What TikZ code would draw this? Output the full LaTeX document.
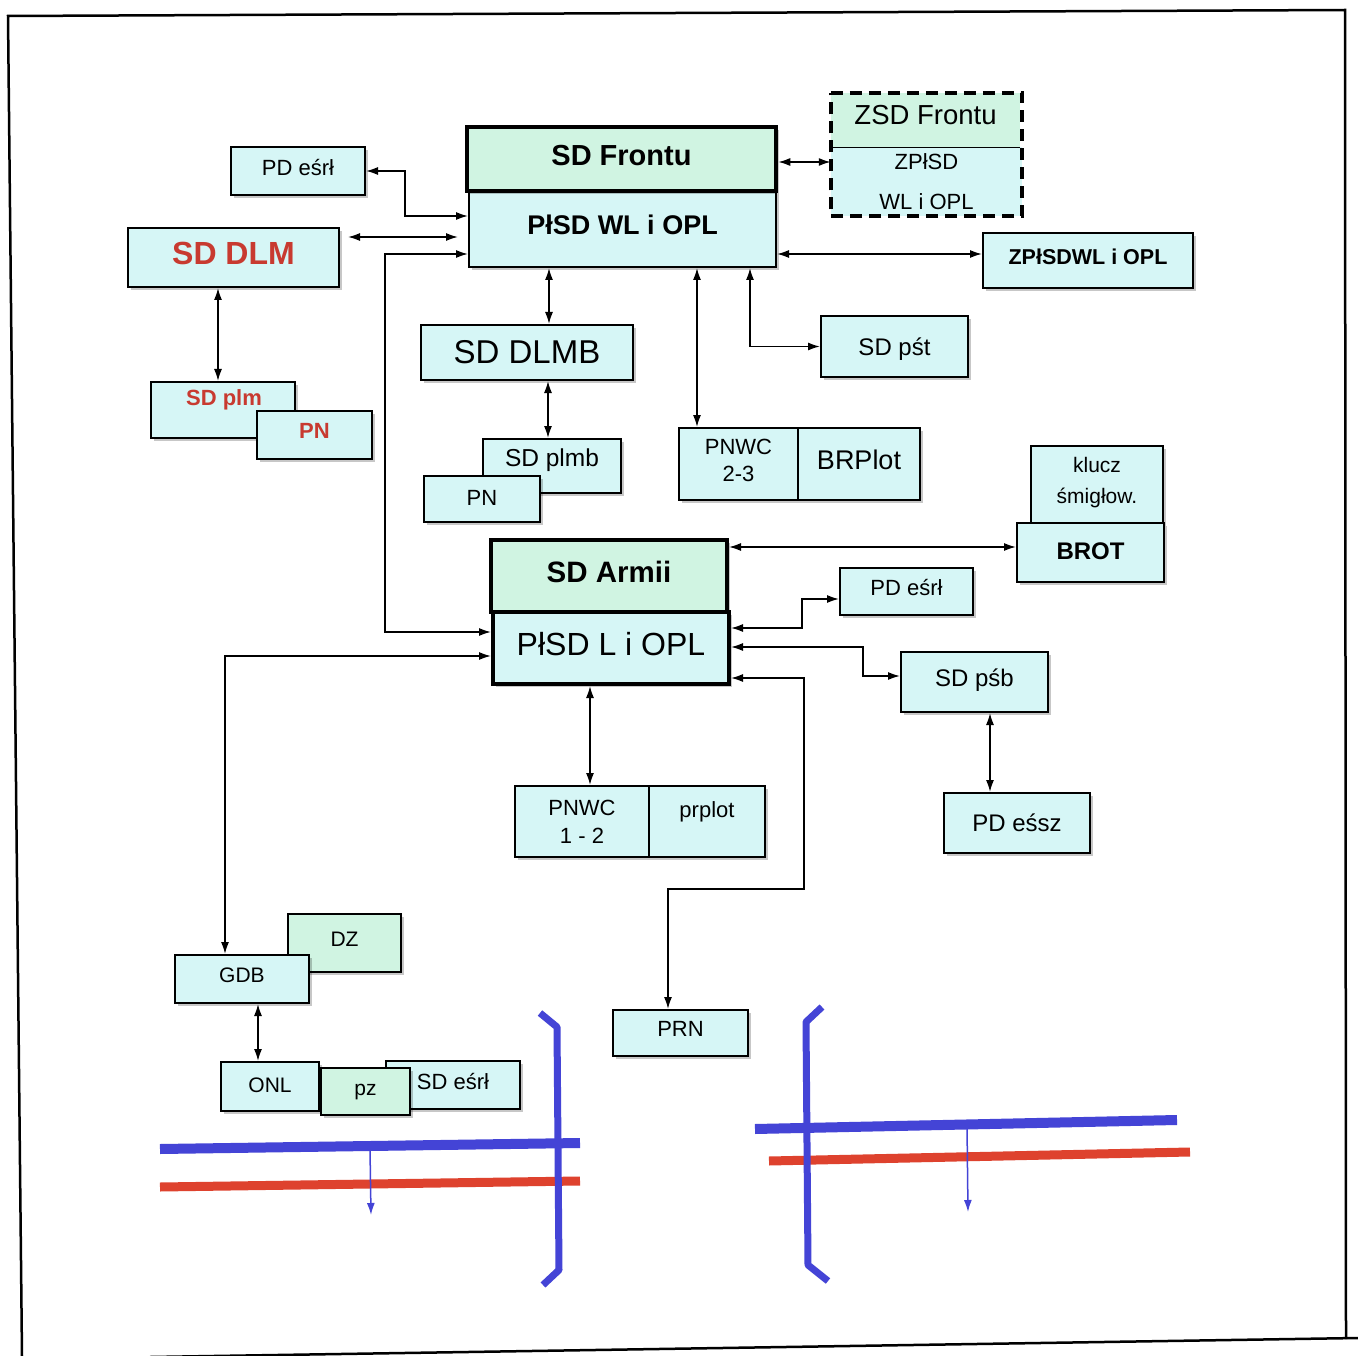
\documentclass[tikz,border=0pt]{standalone}
\usepackage{fontspec}
\setmainfont{Liberation Sans}
\usetikzlibrary{arrows.meta,shadows}
\definecolor{cyanf}{RGB}{214,246,246}
\definecolor{greenf}{RGB}{208,244,226}
\definecolor{redt}{RGB}{200,58,48}
\definecolor{blu}{RGB}{68,68,214}
\definecolor{redl}{RGB}{222,66,46}
\newcommand{\fsz}[2]{\fontsize{#1}{#2}\selectfont}
\newcommand{\bx}[7][]{\node[box,#1,minimum width={(#5-#3)*1pt},minimum height={(#6-#4)*1pt}] (#2) at ({(#3+#5)/2},{(#4+#6)/2}) {#7};}
\begin{document}
\begin{tikzpicture}[x=1pt,y=-1pt,
  >={Latex[length=12pt,width=8pt]},
  box/.style={draw=black,line width=2pt,fill=cyanf,inner sep=0pt,align=center,
    font=\fsz{22}{27},text depth=8pt,
    drop shadow={shadow xshift=3pt,shadow yshift=-3pt,opacity=0.22,fill=black}},
  thickbox/.style={line width=4.5pt},
  greenbox/.style={fill=greenf},
  bi/.style={line width=1.6pt,<->},
  txt/.style={inner sep=0pt,font=\fsz{22}{27}},
  band/.style={line width=10pt},
  bracket/.style={blu,line width=7pt,line join=round}]
\useasboundingbox (0,0) rectangle (1358,1356);
\fill[white] (0,0) rectangle (1358,1356);
% page frame
\draw[line width=2.5pt] (22,1356) -- (8,16) -- (1345,10) -- (1346,1339);
\draw[line width=2.5pt] (150,1357) -- (1358,1338);

% top block
\bx[font=\fsz{27}{32}\bfseries]{pwl}{469}{191}{776}{267}{PłSD WL i OPL}
\bx[greenbox,thickbox,font=\fsz{29}{34}\bfseries]{front}{467}{127}{776}{191}{SD Frontu}

% ZSD Frontu dashed block
\node[fill=greenf,inner sep=0pt,minimum width=189pt,minimum height=54pt,text depth=10pt,font=\fsz{27.5}{32}] (zsd) at (925.5,120) {ZSD Frontu};
\node[fill=cyanf,inner sep=0pt,minimum width=191pt,minimum height=69pt,align=center,font=\fsz{22}{40}] (zpl) at (926.5,181.5) {ZPłSD\\WL i OPL};
\draw[line width=1.2pt] (zsd.south west) -- (zsd.south east);
\draw[line width=3.5pt,dash pattern=on 12pt off 7pt] (zsd.north west) -- (zsd.north east) -- (zpl.north east |- zsd.north east) -- (zpl.south east) -- (zpl.south west) -- cycle;

\bx[font=\fsz{21.5}{26}\bfseries]{zpwl}{983}{233}{1193}{288}{ZPłSDWL i OPL}
\bx{pdes1}{231}{147}{365}{195}{PD eśrł}
\bx[font=\fsz{32}{38}\bfseries,text=redt]{sddlm}{128}{228}{339}{287}{SD DLM}
\bx[font=\fsz{33}{38},text depth=2pt]{dlmb}{421}{325}{633}{380}{SD DLMB}
\bx[font=\fsz{24}{28},text depth=0pt]{sdpst}{821}{316}{968}{377}{SD pśt}

\bx{sdplm}{151}{382}{295}{438}{}
\node[txt,font=\fsz{22}{27}\bfseries,text=redt] (sdplmt) at (224,400) {SD plm};
\bx[font=\fsz{22}{27}\bfseries,text=redt]{pnred}{257}{411}{372}{459}{PN}

\bx{plmb}{483}{439}{621}{493}{}
\node[txt,font=\fsz{24.5}{28}] (plmbt) at (552,460) {SD plmb};
\bx[text depth=2pt]{pn2}{424}{476}{540}{522}{PN}

\bx{pnwc23}{679}{428}{798}{500}{PNWC\\2-3}
\bx[font=\fsz{27}{32}]{brplot}{798}{428}{920}{500}{BRPlot}

\bx[font=\fsz{21}{31}]{klucz}{1031}{446}{1163}{523}{klucz\\śmigłow.}
\bx[font=\fsz{24}{28}\bfseries,text depth=2pt]{brot}{1017}{523}{1164}{582}{BROT}

% SD Armii block
\bx[greenbox,line width=4pt,font=\fsz{29.5}{34}\bfseries]{armii}{491}{540}{727}{612}{SD Armii}
\bx[line width=4pt,font=\fsz{32}{38}]{pl}{493}{612}{729}{684}{PłSD L i OPL}

\bx{pdes2}{840}{568}{973}{615}{PD eśrł}
\bx[font=\fsz{24}{28}]{sdpsb}{901}{652}{1048}{712}{SD pśb}
\bx[font=\fsz{24}{28},text depth=0pt]{pdesz}{944}{793}{1090}{853}{PD eśsz}

\bx[text depth=0pt,font=\fsz{22}{28}]{pnwc12}{515}{786}{649}{857}{PNWC\\1 - 2}
\bx{prplot}{649}{786}{765}{857}{}
\node[txt] (prplott) at (707,812) {prplot};

\bx{prn}{613}{1010}{748}{1056}{PRN}
\bx[greenbox,font=\fsz{21}{26}]{dz}{288}{914}{401}{972}{DZ}
\bx[font=\fsz{21}{26}]{gdb}{175}{955}{309}{1003}{GDB}
\bx[font=\fsz{21}{26},text depth=2pt]{onl}{221}{1062}{319}{1111}{ONL}
\bx{sdes}{386}{1061}{520}{1109}{SD eśrł}
\bx[greenbox,font=\fsz{21}{26},text depth=4pt]{pz}{321}{1068}{410}{1115}{pz}

% connectors
\draw[bi] (pdes1.east) -| (405,216) -- (pwl.west |- 0,216);
\draw[bi,shorten <=8pt,shorten >=10pt] (sddlm.east |- 0,237) -- (pwl.west |- 0,237);
\draw[bi] (pwl.west |- 0,254) -| (385,632) -- (pl.west |- 0,632);
\draw[bi] (sddlm.south -| 218,0) -- (sdplm.north -| 218,0);
\draw[bi] (pwl.south -| 549,0) -- (dlmb.north -| 549,0);
\draw[bi] (dlmb.south -| 548,0) -- (plmb.north -| 548,0);
\draw[bi] (pwl.south -| 697,0) -- (pnwc23.north -| 697,0);
\draw[bi] (pwl.south -| 750,0) |- (sdpst.west);
\draw[bi] (front.east |- 0,162) -- (zpl.west |- 0,162);
\draw[bi] (pwl.east |- 0,254) -- (zpwl.west |- 0,254);
\draw[bi] (armii.east |- 0,547) -- (brot.west |- 0,547);
\draw[bi] (pl.east |- 0,628) -| (802,599) -- (pdes2.west |- 0,599);
\draw[bi] (pl.east |- 0,647) -| (863,676) -- (sdpsb.west |- 0,676);
\draw[bi] (pl.east |- 0,678) -| (804,889) -| (prn.north -| 668,0);
\draw[bi] (pl.south -| 590,0) -- (pnwc12.north -| 590,0);
\draw[bi] (sdpsb.south -| 990,0) -- (pdesz.north -| 990,0);
\draw[bi] (pl.west |- 0,656) -| (gdb.north -| 225,0);
\draw[bi] (gdb.south -| 258,0) -- (onl.north -| 258,0);

% left front lines
\draw[blu,band] (160,1149) -- (580,1143);
\draw[redl,band,line width=9pt] (160,1187) -- (580,1181);
\draw[bracket] (540,1013) -- (557,1027) -- (559,1270) -- (543,1285);
\coordinate (la1) at (370,1149);
\coordinate (la2) at (371,1215);
\draw[blu,line width=1.5pt,->] (la1) -- (la2);

% right front lines
\draw[blu,band] (755,1129) -- (1177,1120);
\draw[redl,band,line width=9pt] (769,1161) -- (1190,1152);
\draw[bracket] (822,1007) -- (806,1022) -- (808,1265) -- (828,1281);
\coordinate (ra1) at (967,1125);
\coordinate (ra2) at (968,1212);
\draw[blu,line width=1.5pt,->] (ra1) -- (ra2);
\end{tikzpicture}
\end{document}
